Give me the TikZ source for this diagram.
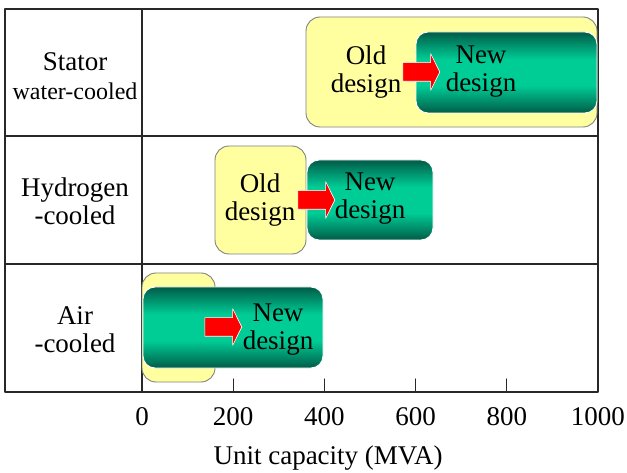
\documentclass[tikz,border=0pt]{standalone}
\usepackage{fontspec}
\setmainfont{Liberation Serif}
\usetikzlibrary{shapes.arrows}

\definecolor{oldyellow}{RGB}{255,255,160}
\definecolor{newdark}{RGB}{0,92,72}
\definecolor{newlight}{RGB}{0,205,150}
\definecolor{framegray}{RGB}{40,40,40}

\pgfdeclareverticalshading{newshade}{100bp}{color(0bp)=(newdark); color(25bp)=(newdark);
  color(42bp)=(newlight); color(58bp)=(newlight); color(75bp)=(newdark); color(100bp)=(newdark)}

\tikzset{
  oldbox/.style={fill=oldyellow,draw=gray,line width=0.9pt,rounded corners=14pt},
  newbox/.style={shading=newshade,shade,draw=white,line width=0.9pt,rounded corners=12pt},
  redarrow/.style={single arrow,fill=red,draw=white,line width=0.6pt,inner xsep=0pt,inner ysep=9pt,
    minimum height=37pt,single arrow head extend=9pt,single arrow tip angle=127},
  txt/.style={align=center,inner sep=0pt}
}

\begin{document}
\begin{tikzpicture}[x=1pt,y=-1pt,line cap=round,line join=round,font=\fontsize{27}{28}\selectfont]
\useasboundingbox (0,0) rectangle (627,473);

% frame
\draw[framegray,line width=1.2pt] (5,9) rectangle (598,392);
\draw[framegray,line width=1.2pt] (142,9) -- (142,392);
\draw[framegray,line width=1.2pt] (5,136) -- (598,136);
\draw[framegray,line width=1.2pt] (5,264) -- (598,264);
\foreach \v in {200,400,600,800}
  \draw[framegray,line width=1.2pt] ({142+0.456*\v},379) -- ({142+0.456*\v},392);
\foreach \v in {0,200,400,600,800,1000}
  \node[txt] (tick\v) at ({142+0.456*\v},417) {\v};
\node[txt] (axis) at (328,458) {Unit capacity (MVA)};

% row labels
\node[txt] (stator) at (75,62) {Stator};
\node[txt,font=\fontsize{24}{28}\selectfont] (water) at (75,91) {water-cooled};
\node[txt] (hydrogen) at (75,201) {Hydrogen\\-cooled};
\node[txt] (air) at (75,330) {Air\\-cooled};

% stator water-cooled
\draw[oldbox] (306,17) rectangle (597,127);
\draw[newbox] (416,32) rectangle (597,113);
\node[txt] (old1) at (366,72) {Old\\design};
\node[redarrow] (arr1) at (419,72) {};
\node[txt] (new1) at (481,72) {New\\design};

% hydrogen-cooled
\draw[oldbox] (215,146) rectangle (306,254);
\draw[newbox] (307,160) rectangle (433,240);
\node[txt] (old2) at (260,200) {Old\\design};
\node[redarrow] (arr2) at (314,200) {};
\node[txt] (new2) at (370,199) {New\\design};

% air-cooled
\draw[oldbox] (142,273) rectangle (215,382);
\draw[newbox] (143,287) rectangle (323,368);
\node[redarrow] (arr3) at (221,327) {};
\node[txt] (new3) at (278,330) {New\\design};
\end{tikzpicture}
\end{document}
